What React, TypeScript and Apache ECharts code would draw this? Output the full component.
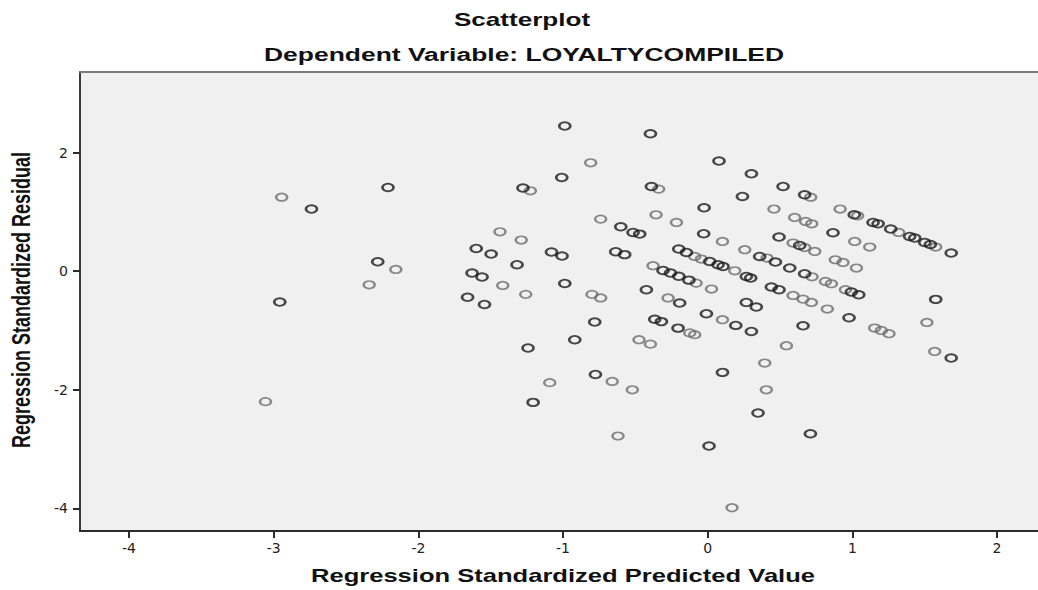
import React, { useEffect, useRef } from "react";
import * as echarts from "echarts";

// Single observations (lighter circles): predicted value / residual
const singlePredicted = [
  -2.945, -3.057, -2.156, -2.34, -0.809, -1.226, -0.339, -0.74, -0.357, -0.216,
  -1.436, -1.289, -1.417, -1.258, -0.8, -0.74, -0.378, -0.08, -0.274, -0.124,
  -0.09, -0.475, -0.396, -0.66, -1.092, -0.521, -0.62, 0.712, 0.458, 0.601,
  0.677, 0.719, 0.915, 1.036, 1.32, 1.576, 0.102, 0.256, 0.41, 0.59,
  0.67, 0.74, 1.016, 1.12, 0.882, 0.935, 1.028, 0.721, 0.814, 0.855,
  0.952, 1.515, 1.154, 1.2, 1.253, -0.09, -0.044, 0.187, 0.026, 0.59,
  0.659, 0.717, 0.827, 0.102, 0.544, 0.394, 0.405, 0.168, 1.569,
];
const singleResidual = [
  1.25, -2.2, 0.03, -0.228, 1.83, 1.358, 1.386, 0.88, 0.953, 0.823,
  0.666, 0.526, -0.24, -0.39, -0.39, -0.45, 0.093, -0.2, -0.45, -1.04,
  -1.07, -1.155, -1.23, -1.859, -1.88, -2.0, -2.78, 1.25, 1.05, 0.908,
  0.84, 0.8, 1.05, 0.936, 0.655, 0.408, 0.503, 0.363, 0.223, 0.476,
  0.4, 0.334, 0.503, 0.408, 0.194, 0.149, 0.054, -0.093, -0.172, -0.211,
  -0.312, -0.864, -0.958, -0.999, -1.054, 0.25, 0.206, 0.008, -0.3, -0.408,
  -0.47, -0.526, -0.638, -0.818, -1.257, -1.549, -2.0, -3.99, -1.353,
];

// Repeated / overlapping observations (darker circles)
const repeatedPredicted = [
  -2.739, -2.958, -2.21, -2.281, -0.988, -0.396, -1.009, -1.277, -0.389, -0.601,
  -0.516, -0.47, -1.6, -1.497, -1.318, -1.08, -1.007, -0.636, -0.574, -1.629,
  -1.56, -0.988, -1.66, -1.543, -0.781, -0.424, -0.309, -0.257, -0.2, -0.13,
  -0.194, -0.366, -0.32, -0.205, -0.919, -1.242, -0.776, -1.207, 0.078, 0.302,
  0.521, 0.67, 0.24, -0.025, 1.013, 1.143, 1.178, 1.265, 1.396, 1.431,
  1.5, 1.539, 1.683, -0.028, 0.359, 0.468, 0.493, 0.636, 0.866, 0.567,
  0.67, 0.993, 1.044, 1.576, 0.977, 0.659, -0.2, -0.147, 0.014, 0.071,
  0.106, 0.267, 0.297, 0.44, 0.493, 0.267, 0.336, -0.009, 0.194, 0.302,
  0.102, 0.348, 0.71, 0.009, 1.683,
];
const repeatedResidual = [
  1.05, -0.52, 1.414, 0.16, 2.45, 2.32, 1.583, 1.404, 1.43, 0.75,
  0.655, 0.627, 0.385, 0.29, 0.11, 0.324, 0.256, 0.33, 0.28, -0.03,
  -0.098, -0.206, -0.44, -0.56, -0.857, -0.312, 0.013, -0.03, -0.085, -0.15,
  -0.537, -0.81, -0.85, -0.96, -1.155, -1.296, -1.741, -2.213, 1.86, 1.645,
  1.431, 1.29, 1.262, 1.071, 0.953, 0.823, 0.8, 0.712, 0.587, 0.56,
  0.486, 0.452, 0.307, 0.633, 0.25, 0.155, 0.577, 0.435, 0.65, 0.054,
  -0.042, -0.351, -0.397, -0.475, -0.785, -0.92, 0.375, 0.317, 0.165, 0.11,
  0.081, -0.088, -0.115, -0.267, -0.312, -0.526, -0.604, -0.717, -0.914, -1.016,
  -1.707, -2.393, -2.742, -2.95, -1.465,
];

const xTickValues = [-4, -3, -2, -1, 0, 1, 2];
const yTickValues = [-4, -2, 0, 2];

const chartTitle = "Scatterplot";
const chartSubtitle = "Dependent Variable: LOYALTYCOMPILED";
const xAxisTitle = "Regression Standardized Predicted Value";
const yAxisTitle = "Regression Standardized Residual";

const X_MIN = -4.339;
const X_MAX = 2.283;
const Y_MIN = -4.383;
const Y_MAX = 3.362;

export default function App() {
  const ref = useRef<HTMLDivElement>(null);

  useEffect(() => {
    if (!ref.current) return;
    const chart = echarts.init(ref.current, undefined, { renderer: "svg" });

    const singleData = singlePredicted.map((x, i) => [x, singleResidual[i]]);
    const repeatedData = repeatedPredicted.map((x, i) => [x, repeatedResidual[i]]);

    const titleFont = 'bold 18px "Liberation Sans", Arial, sans-serif';

    chart.setOption({
      animation: false,
      backgroundColor: "#ffffff",
      grid: {
        left: 80,
        right: 0,
        top: 72,
        bottom: 59,
        show: true,
        backgroundColor: "#f0f0f0",
        borderWidth: 0,
      },
      xAxis: [
        {
          type: "value",
          min: X_MIN,
          max: X_MAX,
          position: "bottom",
          axisLine: { show: true, onZero: false, lineStyle: { color: "#2b2b2b", width: 2 } },
          axisTick: {
            show: true,
            length: 7,
            customValues: xTickValues,
            lineStyle: { color: "#2b2b2b", width: 2 },
          },
          axisLabel: {
            customValues: xTickValues,
            margin: 10,
            color: "#222",
            fontFamily: "DejaVu Sans",
            fontSize: 14,
          },
          splitLine: { show: false },
        },
        {
          type: "value",
          min: X_MIN,
          max: X_MAX,
          position: "top",
          axisLine: { show: true, onZero: false, lineStyle: { color: "#7a7a7a", width: 2 } },
          axisTick: { show: false },
          axisLabel: { show: false },
          splitLine: { show: false },
        },
      ],
      yAxis: {
        type: "value",
        min: Y_MIN,
        max: Y_MAX,
        axisLine: { show: true, onZero: false, lineStyle: { color: "#3a3a3a", width: 2 } },
        axisTick: {
          show: true,
          length: 7,
          customValues: yTickValues,
          lineStyle: { color: "#2b2b2b", width: 2 },
        },
        axisLabel: {
          customValues: yTickValues,
          margin: 12,
          color: "#222",
          fontFamily: "DejaVu Sans",
          fontSize: 14,
        },
        splitLine: { show: false },
      },
      graphic: [
        {
          type: "text",
          x: 522,
          y: 20,
          scaleX: 1.45,
          style: {
            text: chartTitle,
            font: titleFont,
            fill: "#111",
            align: "center",
            verticalAlign: "middle",
            textAlign: "center",
            textVerticalAlign: "middle",
          },
        },
        {
          type: "text",
          x: 524,
          y: 55,
          scaleX: 1.47,
          style: {
            text: chartSubtitle,
            font: titleFont,
            fill: "#111",
            align: "center",
            verticalAlign: "middle",
            textAlign: "center",
            textVerticalAlign: "middle",
          },
        },
        {
          type: "text",
          x: 563,
          y: 576,
          scaleX: 1.42,
          style: {
            text: xAxisTitle,
            font: titleFont,
            fill: "#111",
            align: "center",
            verticalAlign: "middle",
            textAlign: "center",
            textVerticalAlign: "middle",
          },
        },
        {
          type: "text",
          x: 21,
          y: 300,
          rotation: Math.PI / 2,
          scaleY: 1.4,
          style: {
            text: yAxisTitle,
            font: titleFont,
            fill: "#111",
            align: "center",
            verticalAlign: "middle",
            textAlign: "center",
            textVerticalAlign: "middle",
          },
        },
      ],
      series: [
        {
          type: "scatter",
          xAxisIndex: 0,
          yAxisIndex: 0,
          data: singleData,
          symbol: "circle",
          symbolSize: [11, 7.5],
          silent: true,
          itemStyle: { color: "rgba(0,0,0,0)", borderColor: "#6e6e6e", borderWidth: 2 },
        },
        {
          type: "scatter",
          xAxisIndex: 0,
          yAxisIndex: 0,
          data: repeatedData,
          symbol: "circle",
          symbolSize: [11, 7.5],
          silent: true,
          itemStyle: { color: "rgba(0,0,0,0)", borderColor: "#1c1c1c", borderWidth: 2.2 },
        },
      ],
    });

    return () => chart.dispose();
  }, []);

  return (
    <div
      ref={ref}
      style={{ position: "fixed", left: 0, top: 0, width: 1038, height: 590 }}
    />
  );
}
